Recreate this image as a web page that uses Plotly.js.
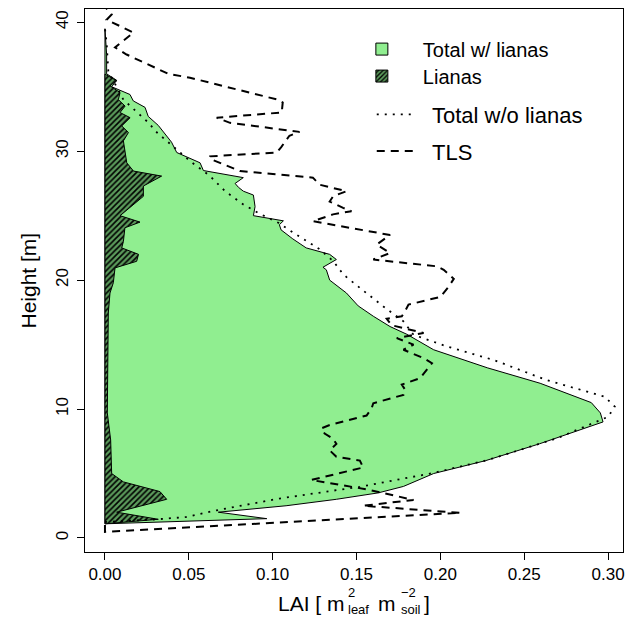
<!DOCTYPE html>
<html>
<head>
<meta charset="utf-8">
<script src="https://cdn.plot.ly/plotly-3.0.1.min.js"></script>
<style>html,body{margin:0;padding:0;background:#fff;}#chart{width:639px;height:617px;}</style>
</head>
<body>
<div id="chart"></div>
<script>
// Total LAI with lianas (green polygon): height [m] and LAI
const hTotal = [1.1, 1.5, 2.0, 2.5, 3.0, 3.5, 4.0, 5.0, 6.0, 7.3, 9.0, 9.7, 10.5, 12.0, 13.2, 14.6, 15.8, 16.4, 17.2, 18.0, 19.0, 20.0, 20.8, 21.0, 21.6, 22.0, 22.5, 23.2, 23.9, 24.3, 24.6, 25.0, 25.7, 26.6, 26.9, 27.2, 27.5, 27.95, 28.5, 29.1, 29.9, 30.7, 32.0, 32.7, 33.4, 33.9, 34.4, 34.7, 35.0, 35.5, 36.0, 37.5, 39.5];
const laiTotal = [0.0, 0.0965, 0.0676, 0.108, 0.138, 0.163, 0.178, 0.196, 0.227, 0.259, 0.297, 0.2954, 0.290, 0.2595, 0.228, 0.196, 0.180, 0.170, 0.160, 0.151, 0.144, 0.134, 0.132, 0.130, 0.138, 0.134, 0.120, 0.112, 0.105, 0.104, 0.1064, 0.0885, 0.0895, 0.0885, 0.0825, 0.0796, 0.0776, 0.0825, 0.0587, 0.0567, 0.0428, 0.0397, 0.0318, 0.0258, 0.0239, 0.0169, 0.0149, 0.0089, 0.004, 0.007, 0.001, 0.001, 0.0];

// Lianas LAI (hatched polygon)
const hLianas = [1.1, 1.45, 2.0, 3.0, 3.6, 4.35, 5.0, 7.6, 9.7, 14.85, 17.45, 19.0, 19.8, 20.95, 21.46, 22.0, 22.5, 23.0, 24.06, 24.5, 25.0, 26.5, 27.3, 28.07, 28.46, 29.1, 30.15, 30.8, 31.45, 31.96, 32.6, 33.0, 33.5, 34.0, 34.55, 35.07, 35.46, 35.98];
const laiLianas = [0.0, 0.0318, 0.007, 0.0368, 0.0328, 0.011, 0.004, 0.0034, 0.0014, 0.002, 0.002, 0.003, 0.005, 0.006, 0.0189, 0.020, 0.010, 0.011, 0.0119, 0.0209, 0.009, 0.0229, 0.0229, 0.0338, 0.017, 0.013, 0.012, 0.011, 0.014, 0.010, 0.015, 0.009, 0.012, 0.008, 0.009, 0.003, 0.007, 0.0];

// Total LAI without lianas (dotted)
const hNoLianas = [1.24, 1.45, 1.63, 2.15, 3.06, 3.97, 5.05, 6.04, 7.73, 9.4, 10.19, 10.96, 12.26, 13.8, 14.85, 15.76, 16.8, 17.96, 19.4, 19.9, 20.43, 21.46, 22.37, 23.67, 24.45, 25.2, 25.87, 26.9, 28.07, 29.24, 30.4, 31.45, 32.2, 33.26, 34.0, 36.2, 38.4, 39.5];
const laiNoLianas = [0.0, 0.031, 0.0487, 0.0666, 0.104, 0.152, 0.196, 0.228, 0.2695, 0.300, 0.304, 0.298, 0.263, 0.232, 0.204, 0.184, 0.178, 0.166, 0.152, 0.147, 0.1422, 0.1362, 0.1283, 0.1124, 0.1034, 0.0915, 0.0825, 0.0716, 0.0627, 0.0507, 0.040, 0.031, 0.026, 0.017, 0.011, 0.002, 0.001, 0.0];

// TLS (dashed)
const hTLS = [1.0, 0.47, 1.95, 2.5, 2.95, 3.35, 3.75, 4.5, 5.47, 6.0, 6.3, 6.8, 7.3, 7.7, 8.1, 8.5, 8.76, 9.5, 10.06, 10.45, 11.1, 11.5, 11.9, 12.4, 13.56, 13.95, 14.6, 15.0, 15.5, 15.9, 16.5, 17.0, 17.2, 17.6, 18.1, 18.7, 19.5, 20.1, 20.8, 21.07, 21.6, 22.1, 22.76, 23.5, 24.57, 25.1, 25.35, 25.6, 26.1, 26.5, 26.9, 27.4, 27.95, 28.46, 29.4, 29.6, 29.9, 30.3, 31.2, 31.5, 32.2, 32.6, 33.0, 33.78, 34.0, 35.7, 36.0, 37.5, 38.05, 39.2, 40.2, 40.6, 41.2];
const laiTLS = [0.0, 0.0, 0.212, 0.154, 0.184, 0.170, 0.157, 0.123, 0.154, 0.152, 0.138, 0.134, 0.138, 0.136, 0.131, 0.129, 0.134, 0.156, 0.159, 0.160, 0.178, 0.179, 0.177, 0.188, 0.195, 0.190, 0.178, 0.184, 0.174, 0.190, 0.171, 0.168, 0.177, 0.179, 0.181, 0.200, 0.205, 0.208, 0.202, 0.198, 0.160, 0.170, 0.162, 0.170, 0.124, 0.136, 0.147, 0.142, 0.134, 0.136, 0.144, 0.128, 0.124, 0.0805, 0.0627, 0.0627, 0.1024, 0.105, 0.110, 0.116, 0.0746, 0.0666, 0.1054, 0.106, 0.103, 0.0507, 0.0378, 0.0129, 0.006, 0.017, 0.001, 0.004, 0.0];

const xTickVals = [0, 0.05, 0.10, 0.15, 0.20, 0.25, 0.30];
const xTickText = ['0.00', '0.05', '0.10', '0.15', '0.20', '0.25', '0.30'];
const yTickVals = [0, 10, 20, 30, 40];

const legendNames = ['Total w/ lianas', 'Lianas', 'Total w/o lianas', 'TLS'];

const FONT = 'Liberation Sans, Arial, Helvetica, sans-serif';
const lianaPattern = {shape: '/', fgcolor: '#000000', bgcolor: '#5b9b5b', size: 4, solidity: 0.4};
const NB = '\u00A0\u00A0';

const closed = (arr) => arr.concat([arr[0]]);

const traces = [
  {x: closed(laiTotal), y: closed(hTotal), type: 'scatter', mode: 'lines', fill: 'toself',
   fillcolor: '#90EE90', line: {color: '#000', width: 1}, showlegend: false, hoverinfo: 'skip'},
  {x: closed(laiLianas), y: closed(hLianas), type: 'scatter', mode: 'lines', fill: 'toself',
   fillcolor: '#5b9b5b', fillpattern: lianaPattern, line: {color: '#000', width: 1}, showlegend: false, hoverinfo: 'skip'},
  {x: laiNoLianas, y: hNoLianas, type: 'scatter', mode: 'lines',
   line: {color: '#000', width: 1.8, dash: '2px,6px'}, showlegend: false, hoverinfo: 'skip'},
  {x: laiTLS, y: hTLS, type: 'scatter', mode: 'lines',
   line: {color: '#000', width: 2, dash: '8px,6px'}, showlegend: false, hoverinfo: 'skip'},
  // legend entries (no visible data)
  {x: [null], y: [null], type: 'bar', name: legendNames[0], legend: 'legend', showlegend: true,
   marker: {color: '#90EE90', line: {color: '#000', width: 1}}},
  {x: [null], y: [null], type: 'bar', name: legendNames[1], legend: 'legend3', showlegend: true,
   marker: {color: '#5b9b5b', pattern: lianaPattern, line: {color: '#000', width: 1}}},
  {x: [null], y: [null], type: 'scatter', mode: 'lines', name: NB + legendNames[2], legend: 'legend2', showlegend: true,
   line: {color: '#000', width: 1.8, dash: '2px,6px'}},
  {x: [null], y: [null], type: 'scatter', mode: 'lines', name: NB + legendNames[3], legend: 'legend4', showlegend: true,
   line: {color: '#000', width: 2, dash: '8px,6px'}}
];

const ann = (text, px, py, size, extra) => Object.assign({
  text: text, xref: 'paper', yref: 'paper', x: 0, y: 0,
  xshift: px - 85, yshift: 552 - py, showarrow: false,
  xanchor: 'left', yanchor: 'middle', font: {family: FONT, size: size, color: '#000'}
}, extra || {});

const boxLegend = (y) => ({x: 0.4756, y: y, xanchor: 'left', yanchor: 'top', bgcolor: 'rgba(0,0,0,0)',
  borderwidth: 0, font: {size: 20}, itemwidth: 72});
const lineLegend = (y) => ({x: 0.533, y: y, xanchor: 'left', yanchor: 'top', bgcolor: 'rgba(0,0,0,0)',
  borderwidth: 0, font: {size: 22}, itemwidth: 38});

const layout = {
  width: 639, height: 617,
  margin: {l: 85, r: 16, t: 9, b: 65},
  paper_bgcolor: '#fff', plot_bgcolor: '#fff',
  font: {family: FONT, color: '#000'},
  xaxis: {range: [-0.0119, 0.3089], tickvals: xTickVals, ticktext: xTickText,
    ticks: 'outside', ticklen: 7, tickwidth: 1, tickcolor: '#000',
    showline: true, mirror: true, linecolor: '#000', linewidth: 1,
    showgrid: false, zeroline: false, tickfont: {size: 17}, ticklabelstandoff: 0},
  yaxis: {range: [-1.087, 41.03], tickvals: yTickVals, tickangle: -90,
    ticks: 'outside', ticklen: 7, tickwidth: 1, tickcolor: '#000',
    showline: true, mirror: true, linecolor: '#000', linewidth: 1,
    showgrid: false, zeroline: false, tickfont: {size: 17}, ticklabelstandoff: 2},
  legend: boxLegend(0.9621),
  legend3: boxLegend(0.9124),
  legend2: lineLegend(0.8444),
  legend4: lineLegend(0.7768),
  annotations: [
    ann('Height [m]', 28, 280.5, 21, {xanchor: 'center', textangle: -90}),
    ann('LAI [ m', 276, 603, 21),
    ann('2<br>leaf', 347, 600.5, 13, {align: 'left', borderpad: 0}),
    ann('m', 376, 603, 21),
    ann('\u22122<br>soil', 400, 600.5, 13, {align: 'left', borderpad: 0}),
    ann(']', 422, 603, 21)
  ],
  showlegend: true
};

Plotly.newPlot('chart', traces, layout, {displayModeBar: false, staticPlot: true});
</script>
</body>
</html>
